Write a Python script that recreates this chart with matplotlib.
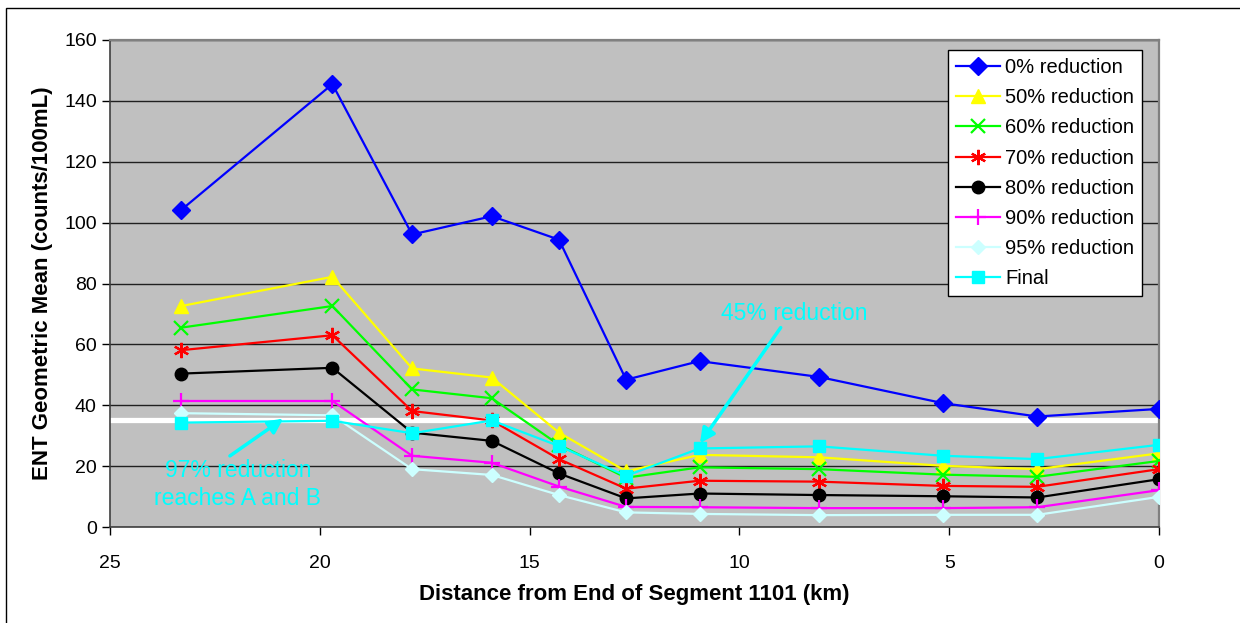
import matplotlib
matplotlib.use("Agg")
import matplotlib.pyplot as plt
from matplotlib.patches import Rectangle
from matplotlib import font_manager

# ---- data ----
distance_km = [23.3, 19.7, 17.8, 15.9, 14.3, 12.7, 10.95, 8.1, 5.15, 2.9, 0.0]
red_0 = [104.2, 145.5, 96.1, 102.1, 94.4, 48.4, 54.5, 49.3, 40.7, 36.3, 38.8]
red_50 = [72.6, 82.2, 52.1, 49.1, 31.0, 18.3, 23.7, 22.9, 20.1, 19.0, 24.2]
red_60 = [65.5, 72.6, 45.2, 42.3, 27.0, 16.2, 19.6, 19.0, 17.2, 16.5, 21.7]
red_70 = [58.1, 63.0, 38.1, 35.0, 22.3, 12.6, 15.2, 14.9, 13.5, 13.2, 19.0]
red_80 = [50.4, 52.3, 31.0, 28.3, 17.6, 9.4, 11.0, 10.5, 10.1, 9.7, 15.7]
red_90 = [41.4, 41.4, 23.4, 21.1, 13.3, 6.6, 6.5, 6.2, 6.2, 6.5, 12.1]
red_95 = [37.4, 36.7, 19.0, 17.1, 10.5, 4.8, 4.3, 3.9, 4.0, 4.0, 9.9]
final = [34.3, 34.9, 30.8, 35.0, 26.6, 16.8, 25.8, 26.5, 23.4, 22.3, 27.0]
standard = 35
labels = ["0% reduction", "50% reduction", "60% reduction", "70% reduction",
          "80% reduction", "90% reduction", "95% reduction", "Final"]
xticks = [25, 20, 15, 10, 5, 0]
yticks = [0, 20, 40, 60, 80, 100, 120, 140, 160]

names = {f.name for f in font_manager.fontManager.ttflist}
base = "Liberation Sans" if "Liberation Sans" in names else "DejaVu Sans"
narrow = "Liberation Sans Narrow" if "Liberation Sans Narrow" in names else base
plt.rcParams['font.family'] = [base, 'DejaVu Sans']

fig = plt.figure(figsize=(12.4, 6.23), dpi=100)
ax = fig.add_axes([110/1240, 1-527/623, (1159-110)/1240, (527-40)/623])
ax.set_facecolor('#C0C0C0')

# outer frame
fig.add_artist(Rectangle((6/1240, -0.05), 1.1, 1-8/623+0.05, transform=fig.transFigure,
                         fill=False, edgecolor='black', linewidth=1.0))

series = [red_0, red_50, red_60, red_70, red_80, red_90, red_95, final]
styles = [
    dict(color='#0000FF', marker='D', ms=9, mfc='#0000FF', mec='#0000FF'),
    dict(color='#FFFF00', marker='^', ms=10, mfc='#FFFF00', mec='#FFFF00'),
    dict(color='#00FF00', marker='x', ms=10, mew=1.6),
    dict(color='#FF0000', marker=(6, 2, 0), ms=11, mew=1.6),
    dict(color='#000000', marker='o', ms=9),
    dict(color='#FF00FF', marker='+', ms=12, mew=1.6),
    dict(color='#CCFFFF', marker='D', ms=7),
    dict(color='#00FFFF', marker='s', ms=9),
]

ax.axhline(standard, color='white', lw=3.8, zorder=1.5, xmin=-0.004, xmax=1.0, clip_on=False)

for y, st, lab in zip(series, styles, labels):
    ax.plot(distance_km, y, lw=1.6, label=lab, zorder=3, **st)

ax.set_xlim(25, 0)
ax.set_ylim(0, 160)
ax.set_xticks(xticks)
ax.set_yticks(yticks)
ax.grid(axis='y', color='#202020', lw=1.0, zorder=1)
ax.set_axisbelow(True)
ax.tick_params(axis='both', direction='out', length=6, width=1, labelsize=14, colors='black')
ax.tick_params(axis='x', pad=14)
for s in ['top', 'right']:
    ax.spines[s].set_color('#808080')
    ax.spines[s].set_linewidth(1.6)
for s in ['left', 'bottom']:
    ax.spines[s].set_color('#404040')
    ax.spines[s].set_linewidth(1.2)

ax.set_xlabel("Distance from End of Segment 1101 (km)", fontsize=16, fontweight='bold', labelpad=9)
ax.set_ylabel("ENT Geometric Mean (counts/100mL)", fontsize=16, fontweight='bold', labelpad=8)

leg = ax.legend(loc='upper right', bbox_to_anchor=(1142/1240, 1-50/623), bbox_transform=fig.transFigure,
                borderaxespad=0, fontsize=14.5, frameon=True, fancybox=False, framealpha=1,
                edgecolor='black', handlelength=2.2, handletextpad=0.25, labelspacing=0.555,
                borderpad=0.4)
leg.get_frame().set_linewidth(1.0)

cyan = '#00FFFF'
ax.annotate("45% reduction", xy=(10.94, 27.5), xytext=(8.7, 70.2), color=cyan,
            fontsize=16.5, family=[narrow, 'DejaVu Sans'], ha='center', va='center',
            arrowprops=dict(arrowstyle='-|>', color=cyan, lw=2.5, mutation_scale=22,
                            shrinkA=0, shrinkB=0, relpos=(0.45, 0.25)), zorder=5)
ax.annotate("97% reduction\nreaches A and B", xy=(20.87, 35.6), xytext=(21.95, 14.0), color=cyan,
            fontsize=16.5, family=[narrow, 'DejaVu Sans'], ha='center', va='center', linespacing=1.3,
            arrowprops=dict(arrowstyle='-|>', color=cyan, lw=2.5, mutation_scale=22,
                            shrinkA=0, shrinkB=0, relpos=(0.45, 1.05)), zorder=5)

fig.savefig("out.png", dpi=100)
